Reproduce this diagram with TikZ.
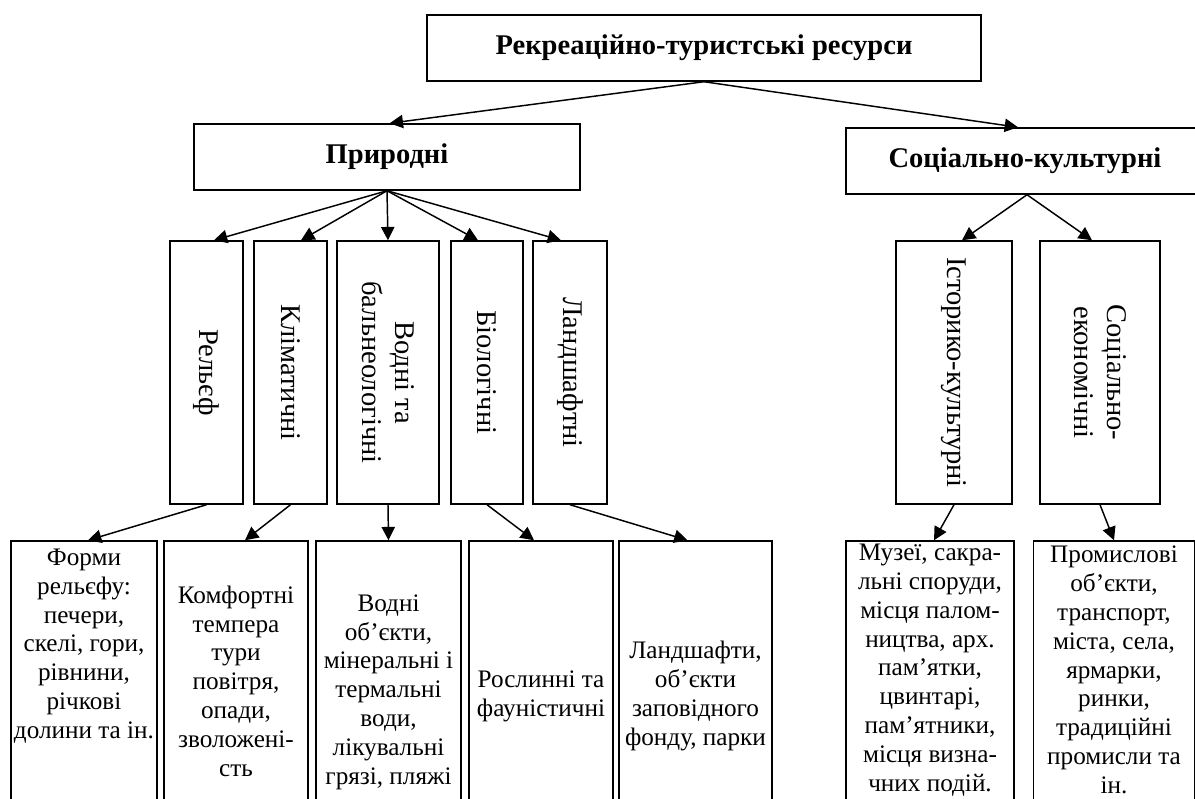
\documentclass[tikz,border=0pt]{standalone}
\usepackage{fontspec}
\setmainfont{Liberation Serif}
\usetikzlibrary{arrows.meta}
\begin{document}
\begin{tikzpicture}[x=0.75pt,y=-0.75pt,
  box/.style={draw, line width=1.1pt, inner sep=0pt},
  arr/.style={line width=1.1pt, -{Triangle[length=10pt,width=10pt]}},
  head/.style={font=\fontsize{21.4}{25}\selectfont\bfseries},
  vtxt/.style={rotate=-90, align=center, inner sep=0pt, font=\fontsize{21.4}{24.75}\selectfont},
  btxt/.style={align=center, inner sep=0pt, font=\fontsize{18.9}{21.6}\selectfont}]
\clip (0,0) rectangle (1195,799);
% level 0
\node[box, head, minimum width=415.5pt, minimum height=49.5pt] (top) at (704,48) {Рекреаційно-туристські ресурси};
% level 1
\node[box, head, minimum width=289.5pt, minimum height=49.5pt] (pri) at (387,157) {Природні};
\node[box, minimum width=271.5pt, minimum height=49.5pt] (soc) at (1027,161) {};
\node[head] (soct) at (1025,161) {Соціально-культурні};
% level 2 (vertical boxes)
\node[box, minimum width=54.75pt, minimum height=197.25pt] (rel) at (206.5,372.5) {};
\node[box, minimum width=54.75pt, minimum height=197.25pt] (kli) at (290.5,372.5) {};
\node[box, minimum width=76.5pt, minimum height=197.25pt] (vod) at (388,372.5) {};
\node[box, minimum width=54pt, minimum height=197.25pt] (bio) at (487,372.5) {};
\node[box, minimum width=55.5pt, minimum height=197.25pt] (lan) at (570,372.5) {};
\node[box, minimum width=87pt, minimum height=197.25pt] (ist) at (954,372.5) {};
\node[box, minimum width=90pt, minimum height=197.25pt] (sek) at (1100,372.5) {};
\node[vtxt] (relt) at (rel) {Рельєф};
\node[vtxt] (klit) at (kli) {Кліматичні};
\node[vtxt] (vodt) at (vod) {Водні та\\бальнеологічні};
\node[vtxt] (biot) at (bio) {Біологічні};
\node[vtxt] (lant) at (lan) {Ландшафтні};
\node[vtxt] (istt) at (ist) {Історико-культурні};
\node[vtxt] (sekt) at (sek) {Соціально-\\економічні};
% level 3 (open-bottom boxes)
\node[box, minimum width=109.5pt, minimum height=216.75pt] (f1) at (84,685.5) {};
\node[box, minimum width=108pt, minimum height=216.75pt] (f2) at (236,685.5) {};
\node[box, minimum width=108.75pt, minimum height=216.75pt] (f3) at (388.5,685.5) {};
\node[box, minimum width=108pt, minimum height=216.75pt] (f4) at (541,685.5) {};
\node[box, minimum width=114.75pt, minimum height=216.75pt] (f5) at (695.5,685.5) {};
\node[box, minimum width=126pt, minimum height=216.75pt] (f6) at (930,685.5) {};
\node[box, minimum width=120.75pt, minimum height=216.75pt] (f7) at (1114,685.5) {};
\node[btxt] (f1t) at (84,646) {Форми\\рельєфу:\\печери,\\скелі, гори,\\рівнини,\\річкові\\долини та ін.};
\node[btxt] (f2t) at (236,681) {Комфортні\\темпера\\тури\\повітря,\\опади,\\зволожені-\\сть};
\node[btxt] (f3t) at (388.5,692) {Водні\\об’єкти,\\мінеральні і\\термальні\\води,\\лікувальні\\грязі, пляжі};
\node[btxt] (f4t) at (541,696) {Рослинні та\\фауністичні};
\node[btxt] (f5t) at (695.5,696) {Ландшафти,\\об’єкти\\заповідного\\фонду, парки};
\node[btxt] (f6t) at (930,670) {Музеї, сакра-\\льні споруди,\\місця палом-\\ництва, арх.\\пам’ятки,\\цвинтарі,\\пам’ятники,\\місця визна-\\чних подій.};
\node[btxt] (f7t) at (1114,670) {Промислові\\об’єкти,\\транспорт,\\міста, села,\\ярмарки,\\ринки,\\традиційні\\промисли та\\ін.};
% connectors
\draw[arr] (top.south) -- ([xshift=2pt]pri.north);
\draw[arr] (top.south) -- ([xshift=-6.75pt]soc.north);
\draw[arr] (pri.south) -- ([xshift=5.6pt]rel.north);
\draw[arr] (pri.south) -- ([xshift=7.9pt]kli.north);
\draw[arr] (pri.south) -- (vod.north);
\draw[arr] (pri.south) -- ([xshift=-6.75pt]bio.north);
\draw[arr] (pri.south) -- ([xshift=-6.75pt]lan.north);
\draw[arr] (soc.south) -- ([xshift=6pt]ist.north);
\draw[arr] (soc.south) -- ([xshift=-6pt]sek.north);
\draw[arr] (rel.south) -- ([xshift=3pt]f1.north);
\draw[arr] (kli.south) -- ([xshift=6.75pt]f2.north);
\draw[arr] (vod.south) -- (f3.north);
\draw[arr] (bio.south) -- ([xshift=-5.25pt]f4.north);
\draw[arr] (lan.south) -- ([xshift=-6pt]f5.north);
\draw[arr] (ist.south) -- ([xshift=3pt]f6.north);
\draw[arr] (sek.south) -- (f7.north);
\end{tikzpicture}
\end{document}
